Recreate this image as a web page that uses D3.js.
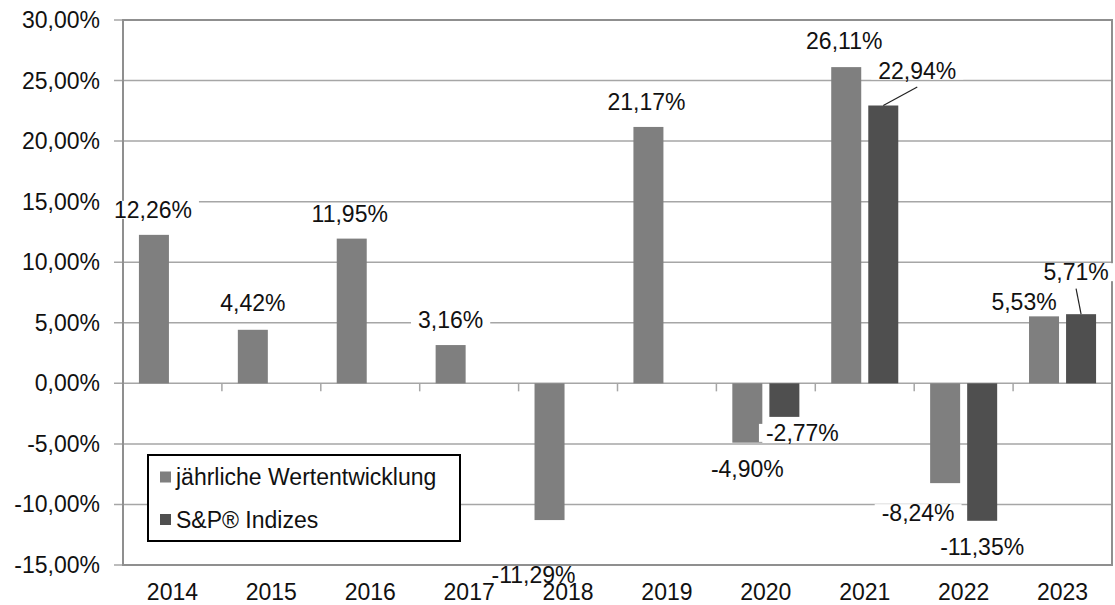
<!DOCTYPE html>
<html lang="de">
<head>
  <meta charset="UTF-8">
  <title>Wertentwicklung</title>
  <script src="https://d3js.org/d3.v7.min.js"></script>
  <style>
    body { margin: 0; background: #fff; }
    text { font-family: 'Liberation Sans', Arial, sans-serif; }
  </style>
</head>
<body>
<script>
  const years = ['2014', '2015', '2016', '2017', '2018', '2019', '2020', '2021', '2022', '2023'];
  const fundValues = [12.26, 4.42, 11.95, 3.16, -11.29, 21.17, -4.90, 26.11, -8.24, 5.53];
  const indexValues = [null, null, null, null, null, null, -2.77, 22.94, -11.35, 5.71];
  const seriesNames = ['jährliche Wertentwicklung', 'S&P® Indizes'];
  const yTicks = [-15, -10, -5, 0, 5, 10, 15, 20, 25, 30];

  // hand placed label nudges (like the original), [dx, dy, leader]
  const fundNudge = [[-1, 0], [0, -2], [-2, 0], [0, 0], [-16, 29], [-2, 0], [0, 0], [-2, -1], [-27, 4], [-20, 11]];
  const indexNudge = [null, null, null, null, null, null, [18, -10], [34, -10, true], [0, 0], [-5, -17, true]];

  const width = 1115;
  const height = 605;
  const margin = { top: 20, right: 3, bottom: 40, left: 123 };
  const fontSize = 23;
  const colors = ['#7f7f7f', '#4f4f4f'];

  const loc = d3.formatLocale({ decimal: ',', thousands: '.', grouping: [3], currency: ['', '€'], minus: '-' });
  const fmt = v => loc.format('.2f')(v) + '%';

  const svg = d3.select('body').append('svg')
    .attr('width', width).attr('height', height)
    .attr('viewBox', [0, 0, width, height]);

  const x = d3.scaleBand()
    .domain(years)
    .range([margin.left, width - margin.right]);

  const x1 = d3.scaleBand()
    .domain([0, 1])
    .range([0, x.bandwidth()])
    .paddingInner(0.19)
    .paddingOuter(0.43);

  const y = d3.scaleLinear()
    .domain([-15, 30])
    .range([height - margin.bottom, margin.top]);

  // gridlines
  svg.append('g')
    .selectAll('line')
    .data(yTicks)
    .join('line')
    .attr('x1', margin.left - 9)
    .attr('x2', width - margin.right)
    .attr('y1', d => y(d))
    .attr('y2', d => y(d))
    .attr('stroke', '#a6a6a6')
    .attr('stroke-width', 1.5);

  // plot frame
  svg.append('rect')
    .attr('x', margin.left)
    .attr('y', margin.top)
    .attr('width', width - margin.right - margin.left)
    .attr('height', height - margin.bottom - margin.top)
    .attr('fill', 'none')
    .attr('stroke', '#8f8f8f')
    .attr('stroke-width', 2);

  // category ticks on the zero line
  svg.append('g')
    .selectAll('line')
    .data(years.slice(1))
    .join('line')
    .attr('x1', d => x(d))
    .attr('x2', d => x(d))
    .attr('y1', y(0))
    .attr('y2', y(0) + 8)
    .attr('stroke', '#a6a6a6')
    .attr('stroke-width', 1.5);

  // y axis labels
  svg.append('g')
    .selectAll('text')
    .data(yTicks)
    .join('text')
    .attr('x', 100)
    .attr('y', d => y(d))
    .attr('dy', '0.35em')
    .attr('text-anchor', 'end')
    .attr('font-size', fontSize)
    .attr('fill', '#111')
    .text(fmt);

  // x axis labels
  svg.append('g')
    .selectAll('text')
    .data(years)
    .join('text')
    .attr('x', d => x(d) + x.bandwidth() / 2)
    .attr('y', 592)
    .attr('dy', '0.35em')
    .attr('text-anchor', 'middle')
    .attr('font-size', fontSize)
    .attr('fill', '#111')
    .text(d => d);

  const points = [];
  [fundValues, indexValues].forEach((vals, s) => {
    const nudge = s === 0 ? fundNudge : indexNudge;
    vals.forEach((v, i) => {
      if (v === null) return;
      points.push({ s, year: years[i], value: v, nudge: nudge[i] || [0, 0] });
    });
  });

  // bars
  svg.append('g')
    .selectAll('rect')
    .data(points)
    .join('rect')
    .attr('x', d => x(d.year) + x1(d.s))
    .attr('y', d => y(Math.max(0, d.value)))
    .attr('width', x1.bandwidth())
    .attr('height', d => Math.abs(y(d.value) - y(0)))
    .attr('fill', d => colors[d.s]);

  // labels
  points.forEach(d => {
    const cx = x(d.year) + x1(d.s) + x1.bandwidth() / 2;
    const end = y(d.value);
    d.bx = cx;
    d.by = end;
    d.lx = cx + d.nudge[0];
    d.ly = (d.value >= 0 ? end - 25 : end + 26) + d.nudge[1];
  });

  const lbl = svg.append('g');
  lbl.selectAll('line')
    .data(points.filter(d => d.nudge[2]))
    .join('line')
    .attr('x1', d => d.bx)
    .attr('y1', d => d.by)
    .attr('x2', d => d.lx)
    .attr('y2', d => d.ly + 16.5)
    .attr('stroke', '#222')
    .attr('stroke-width', 1.2);

  const lg = lbl.selectAll('g')
    .data(points)
    .join('g')
    .attr('transform', d => `translate(${d.lx},${d.ly})`);
  lg.append('text')
    .attr('text-anchor', 'middle')
    .attr('dy', '0.35em')
    .attr('font-size', fontSize)
    .attr('fill', '#111')
    .text(d => fmt(d.value));
  // white box behind labels inside the plot (they cut the gridlines)
  lg.filter(d => d.ly < y(-15)).each(function () {
    const g = d3.select(this);
    const w = g.select('text').node().getComputedTextLength();
    g.insert('rect', 'text')
      .attr('x', -w / 2 - 7)
      .attr('y', -9)
      .attr('width', w + 14)
      .attr('height', 18)
      .attr('fill', '#fff');
  });

  // legend
  const legend = svg.append('g');
  legend.append('rect')
    .attr('x', 148).attr('y', 455)
    .attr('width', 312).attr('height', 86)
    .attr('fill', '#fff')
    .attr('stroke', '#000')
    .attr('stroke-width', 2);
  const li = legend.selectAll('g')
    .data(seriesNames)
    .join('g')
    .attr('transform', (d, i) => `translate(160,${477 + i * 42.5})`);
  li.append('rect')
    .attr('y', -5.5)
    .attr('width', 11).attr('height', 11)
    .attr('fill', (d, i) => colors[i]);
  li.append('text')
    .attr('x', 16)
    .attr('dy', '0.35em')
    .attr('font-size', fontSize)
    .attr('fill', '#111')
    .text(d => d);
</script>
</body>
</html>
